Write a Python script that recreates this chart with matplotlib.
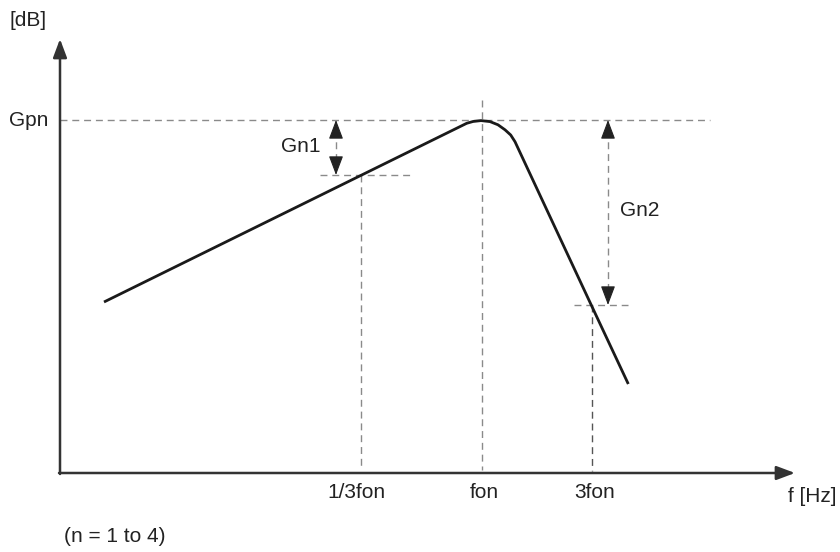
import matplotlib.pyplot as plt

plt.rcParams['font.family'] = ['Liberation Sans', 'DejaVu Sans']

# schematic coordinates (x right, y down)
curve_x = [104, 361.7, 466.7, 473, 481, 490, 498, 505, 510.7, 515, 591.7, 628.3]
curve_y = [302, 175, 123.3, 121.5, 120.6, 121.6, 124.8, 129.8, 135, 141.7, 306, 384]

origin = (60, 473)
x_tip = 795
y_tip = 39

gpn_y = 120
gpn_end = 710
fon_x = 482
fon_top = 100

third_x = 361     # 1/3fon
third_y = 175
gn1_x = 336
gn1_span = (320, 413)

three_x = 592     # 3fon
three_y = 305
gn2_x = 608
gn2_span = (574, 628)

tick_pos = [356, 484, 595]
tick_labels = ['1/3fon', 'fon', '3fon']

dash_col = '#8a8a8a'
dash = (0, (5, 3.5))
fs = 15

fig = plt.figure(figsize=(8.4, 5.52), dpi=100)
ax = fig.add_axes([0, 0, 1, 1])
ax.set_xlim(0, 840)
ax.set_ylim(552, 0)
ax.axis('off')

# guide lines
ax.plot([origin[0], gpn_end], [gpn_y, gpn_y], color=dash_col, lw=1, ls=dash)
ax.plot([fon_x, fon_x], [fon_top, origin[1] - 3], color=dash_col, lw=1, ls=dash)
ax.plot(gn1_span, [third_y, third_y], color=dash_col, lw=1, ls=dash)
ax.plot([third_x, third_x], [third_y, origin[1] - 3], color=dash_col, lw=1, ls=dash)
ax.plot(gn2_span, [three_y, three_y], color=dash_col, lw=1, ls=dash)
ax.plot([three_x, three_x], [three_y, origin[1] - 2], color='#555555', lw=1, ls=dash)

# double arrows Gn1 / Gn2
for ax_x, y0, y1 in [(gn1_x, gpn_y, third_y), (gn2_x, gpn_y, three_y)]:
    ax.plot([ax_x, ax_x], [y0 + 10, y1 - 10], color=dash_col, lw=1, ls=dash)
    for tip, base in [(y0, y0 + 13), (y1, y1 - 13)]:
        ax.annotate('', xy=(ax_x, tip), xytext=(ax_x, base),
                    arrowprops=dict(arrowstyle='-|>,head_length=0.85,head_width=0.32',
                                    color='#222222', lw=0.8, shrinkA=0, shrinkB=0,
                                    mutation_scale=14))

# curve
ax.plot(curve_x, curve_y, color='#1a1a1a', lw=2, solid_capstyle='butt',
        solid_joinstyle='round')

# axes with arrows
for xy, xytext in [((x_tip, origin[1]), (origin[0] - 1, origin[1])),
                   ((origin[0], y_tip), (origin[0], origin[1] + 1))]:
    ax.annotate('', xy=xy, xytext=xytext,
                arrowprops=dict(arrowstyle='-|>,head_length=0.8,head_width=0.3',
                                color='#333333', lw=1.8, shrinkA=0, shrinkB=0,
                                mutation_scale=14))

# text
txt = dict(fontsize=fs, color='#222222', ha='center', va='center')
ax.text(28, 21, '[dB]', **txt)
ax.text(29, 120, 'Gpn', **txt)
ax.text(301, 146, 'Gn1', **txt)
ax.text(640, 210, 'Gn2', **txt)
for p, lab in zip(tick_pos, tick_labels):
    ax.text(p, 493, lab, **txt)
ax.text(812, 497, 'f [Hz]', **txt)
ax.text(64, 537, '(n = 1 to 4)', fontsize=fs, color='#222222', ha='left', va='center')

fig.savefig('out.png', dpi=100)
